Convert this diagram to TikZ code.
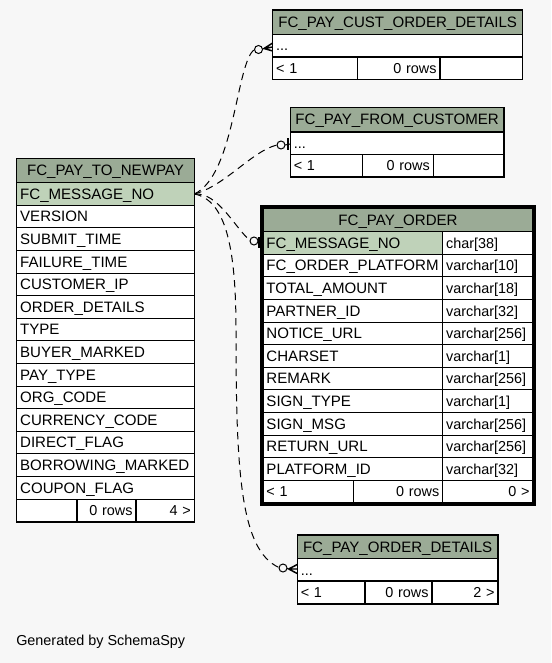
\documentclass[tikz,border=0pt]{standalone}
\usepackage{fontspec}
\setmainfont{Liberation Sans}
\definecolor{bgc}{HTML}{F7F7F7}
\definecolor{hdr}{HTML}{9BAB96}
\definecolor{keyc}{HTML}{BFD2B9}
\newcommand\cellbox[8]{%
  \pgfmathsetmacro\cbw{(#4-#2)*0.75-5.2}%
  \pgfmathsetmacro\cbh{(#5-#3)*0.75}%
  \node[cellst, fill=#7, align=#6, text width=\cbw pt, minimum height=\cbh pt] (#1) at ({(#2+#4)/2},{(#3+#5)/2}) {#8};}
\begin{document}
\begin{tikzpicture}[x=0.75pt,y=-0.75pt,
  cellst/.style={draw=black, line width=0.8pt, inner xsep=2.6pt, inner ysep=0pt, outer sep=0pt,
    text height=7.9pt, text depth=0pt, font=\fontsize{10.8}{12}\selectfont},
  nmfont/.style={font=\fontsize{11.3}{12}\selectfont},
  rel/.style={line width=0.75pt, dash pattern=on 5.5pt off 4pt},
  stub/.style={line width=0.75pt},
  ring/.style={draw=black, fill=bgc, line width=0.75pt},
  tee/.style={line width=1.6pt}]
\fill[bgc] (0,0) rectangle (551,663);
\useasboundingbox (0,0) rectangle (551,663);

% ---------- FC_PAY_TO_NEWPAY ----------
\cellbox{tnhead}{16.7}{158.3}{194.3}{182.7}{center,nmfont}{hdr}{FC\_PAY\_TO\_NEWPAY}
\cellbox{tnkey}{16.7}{182.7}{194.3}{205.3}{left,nmfont}{keyc}{FC\_MESSAGE\_NO}
\foreach \t [count=\i from 0] in {VERSION,SUBMIT\_TIME,FAILURE\_TIME,CUSTOMER\_IP,ORDER\_DETAILS,TYPE,BUYER\_MARKED,PAY\_TYPE,ORG\_CODE,CURRENCY\_CODE,DIRECT\_FLAG,BORROWING\_MARKED,COUPON\_FLAG}{
  \pgfmathsetmacro\ya{205.3+22.6*\i}
  \pgfmathsetmacro\yb{227.9+22.6*\i}
  \cellbox{tn\i}{16.7}{\ya}{194.3}{\yb}{left,nmfont}{white}{\t}
}
\cellbox{tnfa}{16.7}{499.1}{77}{522}{left}{white}{}
\cellbox{tnfb}{77}{499.1}{136}{522}{right}{white}{0 rows}
\cellbox{tnfc}{136}{499.1}{194.3}{522}{right}{white}{4 >}

% ---------- FC_PAY_CUST_ORDER_DETAILS ----------
\cellbox{cohead}{272.7}{10}{522.7}{34.3}{center,nmfont}{hdr}{FC\_PAY\_CUST\_ORDER\_DETAILS}
\cellbox{corow}{272.7}{34.3}{522.7}{57}{left}{white}{...}
\cellbox{cofa}{272.7}{57}{357.3}{79.7}{left}{white}{< 1}
\cellbox{cofb}{357.3}{57}{440}{79.7}{right}{white}{0 rows}
\cellbox{cofc}{440}{57}{522.7}{79.7}{right}{white}{}

% ---------- FC_PAY_FROM_CUSTOMER ----------
\cellbox{fchead}{290.3}{107.3}{504}{132}{center,nmfont}{hdr}{FC\_PAY\_FROM\_CUSTOMER}
\cellbox{fcrow}{290.3}{132}{504}{154.3}{left}{white}{...}
\cellbox{fcfa}{290.3}{154.3}{362.3}{177}{left}{white}{< 1}
\cellbox{fcfb}{362.3}{154.3}{433.3}{177}{right}{white}{0 rows}
\cellbox{fcfc}{433.3}{154.3}{504}{177}{right}{white}{}

% ---------- FC_PAY_ORDER ----------
\cellbox{pohead}{263}{208.5}{533}{231.7}{center,nmfont}{hdr}{FC\_PAY\_ORDER}
\cellbox{pokey}{263}{231.7}{442.7}{254.3}{left,nmfont}{keyc}{FC\_MESSAGE\_NO}
\cellbox{pokeyt}{442.7}{231.7}{533}{254.3}{left}{white}{char[38]}
\foreach \n/\ty [count=\i from 0] in {FC\_ORDER\_PLATFORM/varchar[10],TOTAL\_AMOUNT/varchar[18],PARTNER\_ID/varchar[32],NOTICE\_URL/varchar[256],CHARSET/varchar[1],REMARK/varchar[256],SIGN\_TYPE/varchar[1],SIGN\_MSG/varchar[256],RETURN\_URL/varchar[256],PLATFORM\_ID/varchar[32]}{
  \pgfmathsetmacro\ya{254.3+22.6*\i}
  \pgfmathsetmacro\yb{276.9+22.6*\i}
  \cellbox{po\i}{263}{\ya}{442.7}{\yb}{left,nmfont}{white}{\n}
  \cellbox{pot\i}{442.7}{\ya}{533}{\yb}{left}{white}{\ty}
}
\cellbox{pofa}{263}{480.3}{353.3}{503}{left}{white}{< 1}
\cellbox{pofb}{353.3}{480.3}{442.7}{503}{right}{white}{0 rows}
\cellbox{pofc}{442.7}{480.3}{533}{503}{right}{white}{0 >}
\draw[line width=2.25pt] (261.5,206.5) rectangle (534.5,504.5);

% ---------- FC_PAY_ORDER_DETAILS ----------
\cellbox{odhead}{297.3}{535}{498}{558.7}{center,nmfont}{hdr}{FC\_PAY\_ORDER\_DETAILS}
\cellbox{odrow}{297.3}{558.7}{498}{581}{left}{white}{...}
\cellbox{odfa}{297.3}{581}{365}{604}{left}{white}{< 1}
\cellbox{odfb}{365}{581}{432}{604}{right}{white}{0 rows}
\cellbox{odfc}{432}{581}{498}{604}{right}{white}{2 >}

% ---------- connectors ----------
\coordinate (c1) at (254.5,49.5);
\coordinate (c2) at (277,145);
\coordinate (c3) at (250,240.5);
\coordinate (c4) at (279,567.5);

\draw[rel] (tnkey.east) .. controls (235,175) and (236,62) .. (c1);
\draw[ring] (258.5,49.5) circle (3pt);
\draw[stub] (262.5,49) -- (264,48.5);
\draw[line width=1.1pt] (264,48.5) -- (corow.west |- 0,43) (264,48.5) -- (corow.west |- 0,47) (264,48.5) -- (corow.west |- 0,51);

\draw[rel] (tnkey.east) .. controls (225,186) and (252,151) .. (c2);
\draw[ring] (281,145) circle (3pt);
\draw[stub] (285,145) -- (fcrow.west |- 0,144);
\draw[tee] (288.3,138.5) -- (288.3,150);

\draw[rel] (tnkey.east) .. controls (218,192) and (235,228) .. (c3);
\draw[ring] (254,241) circle (3pt);
\draw[stub] (258,241.5) -- (pokey.west |- 0,242);
\draw[tee] (258.8,237) -- (258.8,248);

\draw[rel] (tnkey.east) .. controls (225,200) and (236,245) .. (236,330) .. controls (236,470) and (240,550) .. (c4);
\draw[ring] (283,568) circle (3pt);
\draw[stub] (287,568.5) -- (288.5,569);
\draw[line width=1.1pt] (288.5,569) -- (odrow.west |- 0,564.5) (288.5,569) -- (odrow.west |- 0,569) (288.5,569) -- (odrow.west |- 0,573.5);

\node[anchor=base west, inner sep=0pt, font=\fontsize{10.8}{12}\selectfont] (gen) at (16,645.7) {Generated by SchemaSpy};
\end{tikzpicture}
\end{document}
